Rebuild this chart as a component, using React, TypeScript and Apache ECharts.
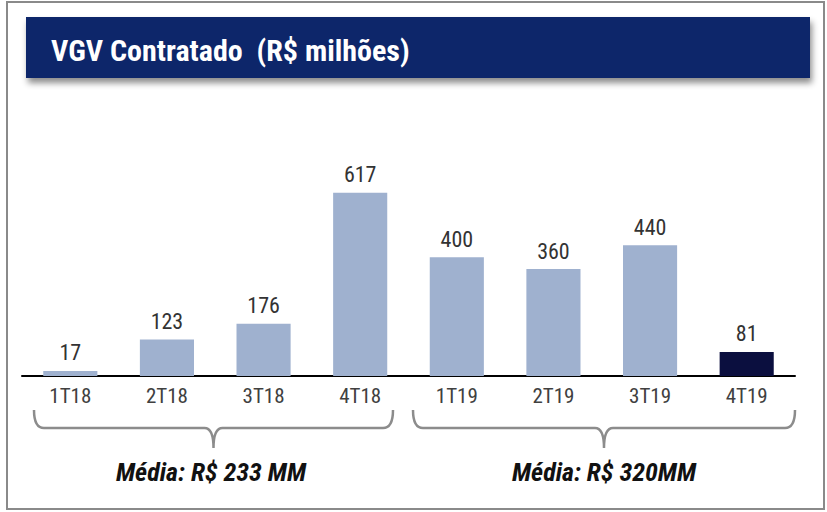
import React, { useEffect, useRef } from "react";
import * as echarts from "echarts";

const categories = ["1T18", "2T18", "3T18", "4T18", "1T19", "2T19", "3T19", "4T19"];
const values = [17, 123, 176, 617, 400, 360, 440, 81];
const highlightIndex = 7;
const titleText = "VGV Contratado  (R$ milhões)";
const averageLabels = ["Média: R$ 233 MM", "Média: R$ 320MM"];

const FONT = "'Liberation Sans Narrow', 'Arial Narrow', 'Roboto Condensed', sans-serif";

const bracePath = (x1: number, x2: number) => {
  const top = 410;
  const mid = 428;
  const tip = 448;
  const c = (x1 + x2) / 2;
  return `M${x1},${top} Q${x1},${mid} ${x1 + 10},${mid} L${c - 9},${mid} Q${c},${mid} ${c},${tip} Q${c},${mid} ${c + 9},${mid} L${x2 - 10},${mid} Q${x2},${mid} ${x2},${top}`;
};

echarts.graphic.registerShape("braceLeft", echarts.graphic.extendPath(bracePath(34, 393), {}));
echarts.graphic.registerShape("braceRight", echarts.graphic.extendPath(bracePath(413, 795), {}));

export default function App() {
  const ref = useRef<HTMLDivElement>(null);
  useEffect(() => {
    if (!ref.current) return;
    const chart = echarts.init(ref.current, undefined, { renderer: "svg" });
    chart.setOption({
      animation: false,
      backgroundColor: "#ffffff",
      grid: { left: 22, right: 32, top: 168, bottom: 136, containLabel: false },
      xAxis: {
        type: "category",
        data: categories,
        axisLine: { lineStyle: { color: "#000000", width: 2 } },
        axisTick: { show: false },
        axisLabel: { color: "#404040", fontSize: 21, fontFamily: FONT, margin: 9 },
      },
      yAxis: {
        type: "value",
        min: 0,
        max: 700,
        show: false,
        splitLine: { show: false },
      },
      series: [
        {
          type: "bar",
          barWidth: "56%",
          data: values.map((v, i) => ({
            value: v,
            itemStyle: { color: i === highlightIndex ? "#0b0f3f" : "#9fb1cf" },
          })),
          label: {
            show: true,
            position: "top",
            distance: 7,
            color: "#333333",
            fontSize: 22,
            fontFamily: FONT,
          },
        },
      ],
      graphic: [
        {
          type: "rect",
          shape: { x: 7, y: 2, width: 817, height: 507 },
          style: { fill: "none", stroke: "#8a8a8a", lineWidth: 2 },
          silent: true,
        },
        {
          type: "rect",
          shape: { x: 26, y: 17, width: 784, height: 61 },
          style: {
            fill: "#08276a",
            shadowBlur: 6,
            shadowOffsetX: 2,
            shadowOffsetY: 5,
            shadowColor: "rgba(0,0,0,0.45)",
          },
          silent: true,
        },
        {
          type: "text",
          x: 51,
          y: 50,
          style: {
            text: titleText,
            fill: "#ffffff",
            font: `bold 30px ${FONT}`,
            verticalAlign: "middle",
          },
          silent: true,
        },
        {
          type: "braceLeft",
          x: 0,
          y: 0,
          style: { fill: "none", stroke: "#8c8c8c", lineWidth: 2.5 },
          silent: true,
        },
        {
          type: "braceRight",
          x: 0,
          y: 0,
          style: { fill: "none", stroke: "#8c8c8c", lineWidth: 2.5 },
          silent: true,
        },
        {
          type: "text",
          x: 211,
          y: 472,
          style: {
            text: averageLabels[0],
            fill: "#111111",
            font: `italic bold 26px ${FONT}`,
            align: "center",
            verticalAlign: "middle",
          },
          silent: true,
        },
        {
          type: "text",
          x: 604,
          y: 472,
          style: {
            text: averageLabels[1],
            fill: "#111111",
            font: `italic bold 26px ${FONT}`,
            align: "center",
            verticalAlign: "middle",
          },
          silent: true,
        },
      ],
    });
    return () => chart.dispose();
  }, []);
  return (
    <div
      ref={ref}
      style={{ position: "absolute", left: 0, top: 0, width: 827, height: 512 }}
    />
  );
}
